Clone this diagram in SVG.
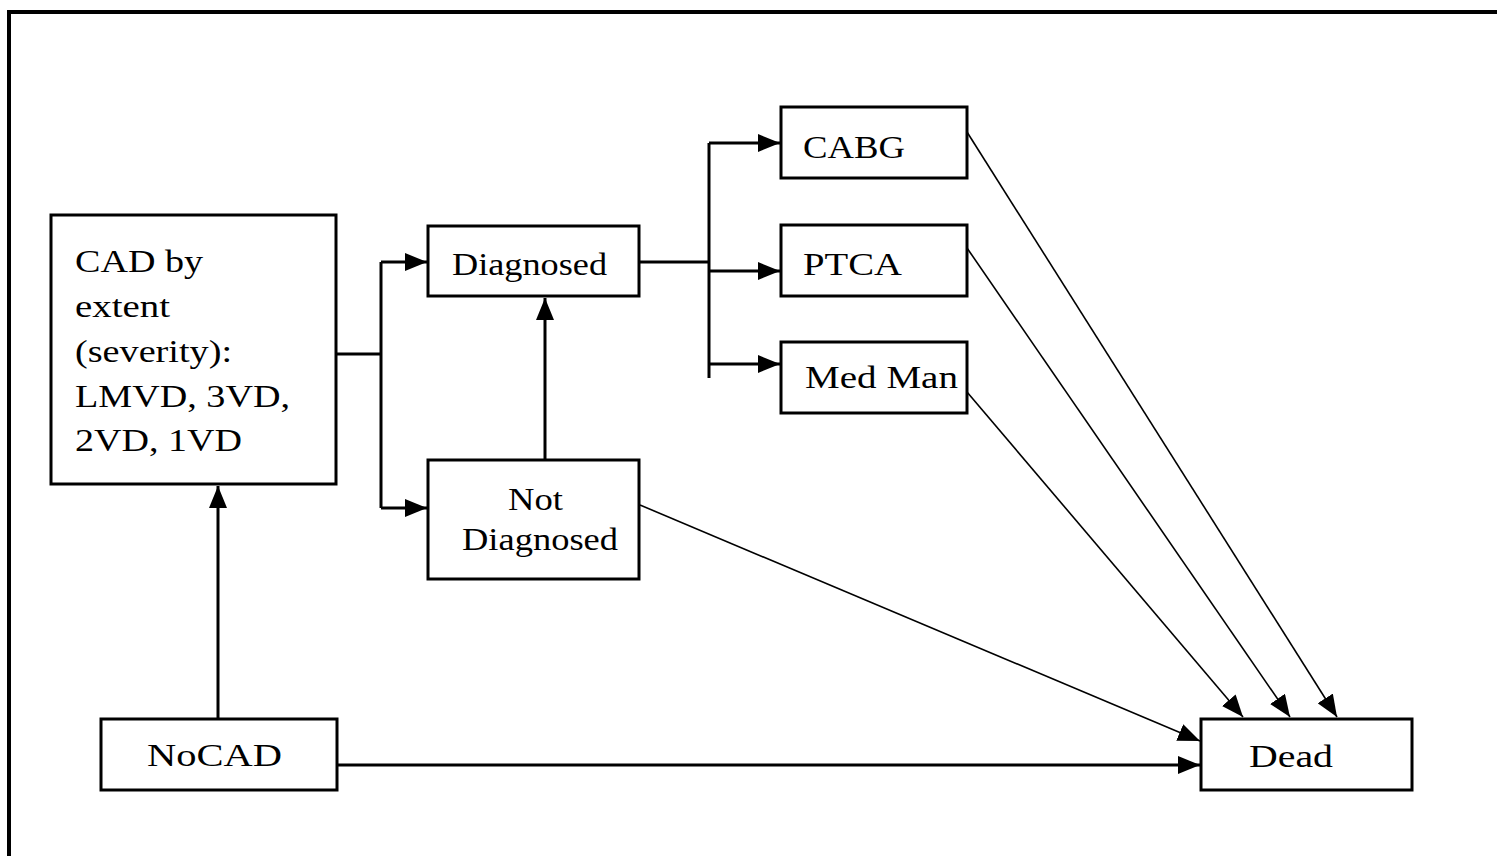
<svg xmlns="http://www.w3.org/2000/svg" width="1497" height="856" viewBox="0 0 1497 856">
<style>
.box{fill:#fff;stroke:#000;stroke-width:3}
.t{font-family:"Liberation Serif","Times New Roman",serif;font-size:32px;fill:#000}
.c{fill:none;stroke:#000;stroke-width:3}
.d{fill:none;stroke:#000;stroke-width:1.6}
</style>
<defs>
<marker id="ah" viewBox="0 0 22 18" refX="22" refY="9" markerWidth="22" markerHeight="18" markerUnits="userSpaceOnUse" orient="auto">
<path d="M0,0 L22,9 L0,18 z" fill="#000"/>
</marker>
</defs>
<rect width="1497" height="856" fill="#fff"/>
<path d="M9 856 V12 H1497" fill="none" stroke="#000" stroke-width="4"/>
<g id="connectors">
<path class="c" d="M336 354 H381"/>
<path class="c" d="M381 262 V508"/>
<path class="c" d="M381 262 H427" marker-end="url(#ah)"/>
<path class="c" d="M381 508 H427" marker-end="url(#ah)"/>
<path class="c" d="M545 459 V298" marker-end="url(#ah)"/>
<path class="c" d="M640 262 H709"/>
<path class="c" d="M709 143 V378"/>
<path class="c" d="M709 143 H780" marker-end="url(#ah)"/>
<path class="c" d="M709 271 H780" marker-end="url(#ah)"/>
<path class="c" d="M709 364 H780" marker-end="url(#ah)"/>
<path class="c" d="M218 719 V486" marker-end="url(#ah)"/>
<path class="c" d="M337 765 H1200" marker-end="url(#ah)"/>
<path class="d" d="M967 132 L1337 717" marker-end="url(#ah)"/>
<path class="d" d="M967 248 L1290 717" marker-end="url(#ah)"/>
<path class="d" d="M967 392 L1243 717" marker-end="url(#ah)"/>
<path class="d" d="M640 505 L1200 741" marker-end="url(#ah)"/>
</g>
<g id="cad">
<rect class="box" x="51" y="215" width="285" height="269"/>
<text class="t" x="75" y="272" textLength="128" lengthAdjust="spacingAndGlyphs">CAD by</text>
<text class="t" x="75" y="317" textLength="95" lengthAdjust="spacingAndGlyphs">extent</text>
<text class="t" x="75" y="362" textLength="157" lengthAdjust="spacingAndGlyphs">(severity):</text>
<text class="t" x="75" y="407" textLength="215" lengthAdjust="spacingAndGlyphs">LMVD, 3VD,</text>
<text class="t" x="75" y="451" textLength="167" lengthAdjust="spacingAndGlyphs">2VD, 1VD</text>
</g>
<g id="diagnosed">
<rect class="box" x="428" y="226" width="211" height="70"/>
<text class="t" x="452" y="275" textLength="155" lengthAdjust="spacingAndGlyphs">Diagnosed</text>
</g>
<g id="notdiagnosed">
<rect class="box" x="428" y="460" width="211" height="119"/>
<text class="t" x="508" y="510" textLength="55" lengthAdjust="spacingAndGlyphs">Not</text>
<text class="t" x="462" y="550" textLength="156" lengthAdjust="spacingAndGlyphs">Diagnosed</text>
</g>
<g id="cabg">
<rect class="box" x="781" y="107" width="186" height="71"/>
<text class="t" x="803" y="158" textLength="102" lengthAdjust="spacingAndGlyphs">CABG</text>
</g>
<g id="ptca">
<rect class="box" x="781" y="225" width="186" height="71"/>
<text class="t" x="803" y="275" textLength="99" lengthAdjust="spacingAndGlyphs">PTCA</text>
</g>
<g id="medman">
<rect class="box" x="781" y="342" width="186" height="71"/>
<text class="t" x="805" y="388" textLength="153" lengthAdjust="spacingAndGlyphs">Med Man</text>
</g>
<g id="nocad">
<rect class="box" x="101" y="719" width="236" height="71"/>
<text class="t" x="147" y="766" textLength="135" lengthAdjust="spacingAndGlyphs">NoCAD</text>
</g>
<g id="dead">
<rect class="box" x="1201" y="719" width="211" height="71"/>
<text class="t" x="1249" y="767" textLength="84" lengthAdjust="spacingAndGlyphs">Dead</text>
</g>
</svg>
